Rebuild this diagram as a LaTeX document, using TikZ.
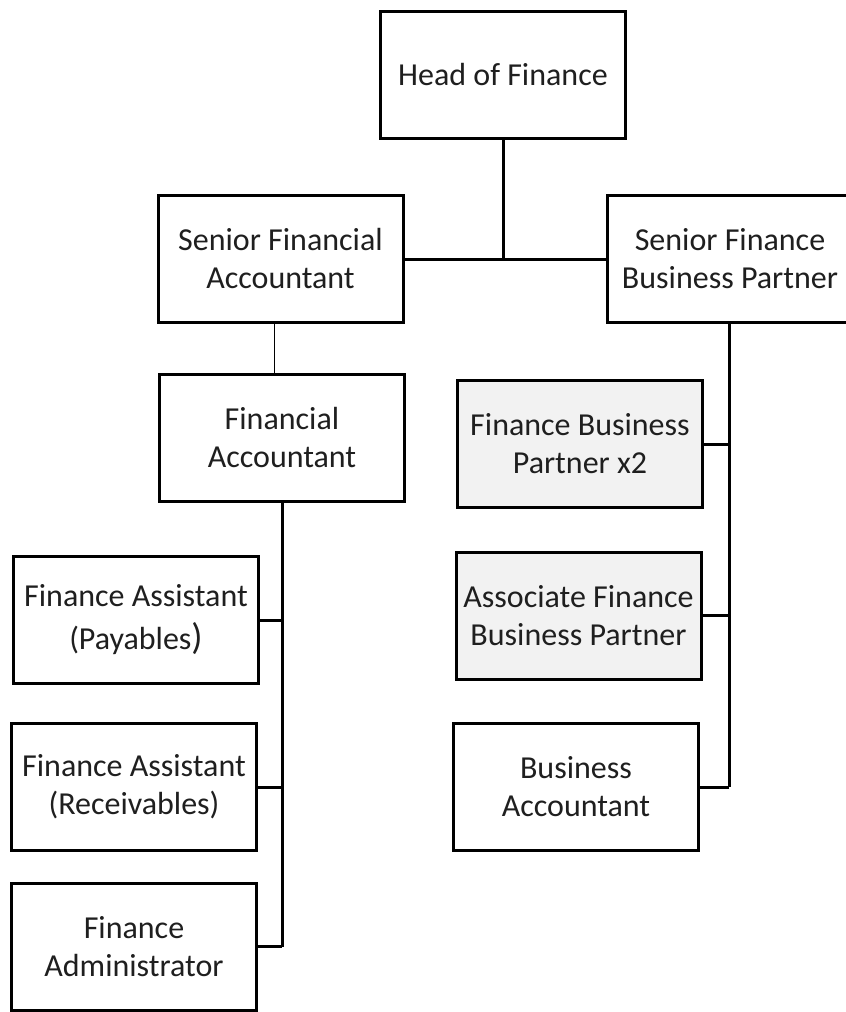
\documentclass[tikz,border=0pt]{standalone}
\usepackage{fontspec}
\setmainfont{Carlito}
\begin{document}
\begin{tikzpicture}[x=1pt,y=-1pt,
  post/.style={draw=black, line width=3pt, inner sep=0pt,
    minimum width=245pt, minimum height=127pt, align=center,
    font=\fontsize{32}{38}\selectfont, text=black!88},
  shaded/.style={post, fill=black!5},
  link/.style={draw=black, line width=3pt},
  thinlink/.style={draw=black, line width=1.2pt}]
\useasboundingbox (0,0) rectangle (846,1012);
\clip (0,0) rectangle (846,1012);
\fill[white] (0,0) rectangle (846,1012);

% top level
\node[post] (head) at (503,74.5) {Head of Finance};

% second level
\node[post] (sfa)  at (280.5,259) {Senior Financial\\Accountant};
\node[post] (sfbp) at (730,259)   {Senior Finance\\Business Partner};

% financial accounting branch
\node[post] (fa)  at (282,438) {Financial\\Accountant};
\node[post] (pay) at (136,620) {Finance Assistant\\[5pt](Payables{\fontsize{37}{38}\selectfont)}};
\node[post] (rec) at (134,787) {Finance Assistant\\(Receivables)};
\node[post] (adm) at (134,946.5) {Finance\\Administrator};

% business partnering branch
\node[shaded] (fbp)  at (580,444)   {Finance Business\\Partner x2};
\node[shaded] (afbp) at (578.5,615.5) {Associate Finance\\Business Partner};
\node[post]   (ba)   at (576,787)   {Business\\Accountant};

% connectors
\draw[link] (sfa.east) -- (sfbp.west);
\draw[link] (head.south) -- (head.south |- sfa.east);
\draw[thinlink] ([xshift=-6pt]sfa.south) -- ([xshift=-6pt]sfa.south |- fa.north);

\draw[link] (fa.south) -- (fa.south |- adm.east);
\draw[link] (pay.east) -- (pay.east -| fa.south);
\draw[link] (rec.east) -- (rec.east -| fa.south);
\draw[link] (adm.east) -- (adm.east -| fa.south);

\draw[link] ([xshift=-1pt]sfbp.south) -- ([xshift=-1pt]sfbp.south |- ba.east);
\draw[link] (fbp.east)  -- ([xshift=-1pt]fbp.east -| sfbp.south);
\draw[link] (afbp.east) -- ([xshift=-1pt]afbp.east -| sfbp.south);
\draw[link] (ba.east)   -- ([xshift=-1pt]ba.east -| sfbp.south);
\end{tikzpicture}
\end{document}
